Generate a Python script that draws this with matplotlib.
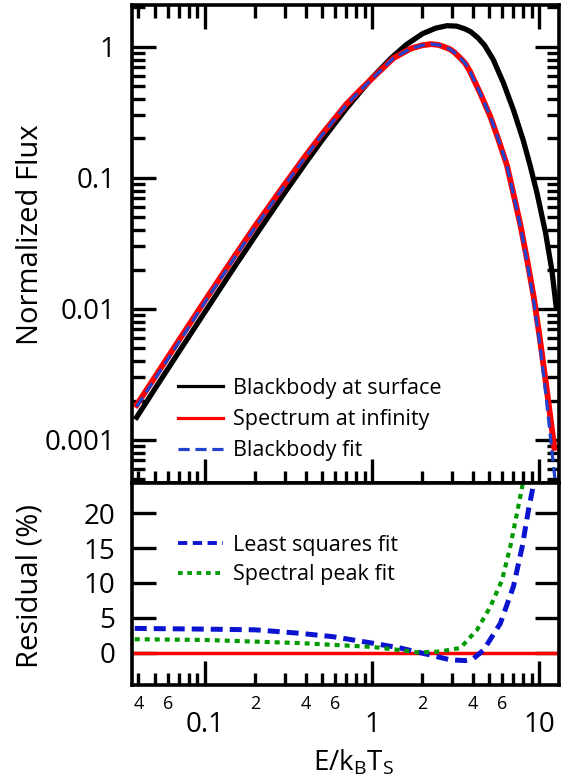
import numpy as np
import matplotlib
matplotlib.use("Agg")
from matplotlib import pyplot as plt
from matplotlib import ticker

plt.rcParams['font.family'] = ['Open Sans', 'DejaVu Sans']
plt.rcParams['mathtext.fontset'] = 'custom'
plt.rcParams['mathtext.rm'] = 'Open Sans'
plt.rcParams['mathtext.it'] = 'Open Sans:italic'

# spectra
x_surf = [0.039, 0.05, 0.07, 0.1, 0.15, 0.2, 0.3, 0.4, 0.5, 0.7, 1.0, 1.3, 1.6, 2.0,
          2.4, 2.8, 3.2, 3.6, 3.9, 4.3, 4.7, 5.3, 6.1, 7.0, 8.0, 8.8, 9.7, 10.9, 11.9, 12.6]
f_surf = [0.00149, 0.00244, 0.00473, 0.0095, 0.0209, 0.0361, 0.0772, 0.130, 0.193, 0.338,
          0.582, 0.823, 1.04, 1.26, 1.39, 1.45, 1.44, 1.37, 1.30, 1.17, 1.03, 0.80, 0.53,
          0.33, 0.195, 0.125, 0.076, 0.038, 0.0195, 0.0105]

x_inf = [0.039, 0.05, 0.07, 0.1, 0.15, 0.2, 0.3, 0.4, 0.5, 0.7, 0.85, 1.0, 1.34, 1.7, 2.0,
         2.25, 2.5, 2.9, 3.1, 3.37, 3.6, 3.86, 4.1, 4.43, 4.75, 5.09, 5.7, 6.4, 6.9, 7.7,
         8.45, 9.25, 10.1, 11.0, 12.3]
f_inf = [0.00185, 0.0030, 0.0058, 0.0116, 0.0252, 0.0432, 0.0895, 0.148, 0.215, 0.365, 0.47,
         0.575, 0.82, 0.97, 1.03, 1.05, 1.035, 0.965, 0.91, 0.82, 0.75, 0.645, 0.545, 0.443,
         0.36, 0.294, 0.195, 0.125, 0.082, 0.044, 0.0237, 0.0124, 0.0058, 0.0026, 0.00087]

x_fit = [0.039, 0.05, 0.07, 0.1, 0.15, 0.2, 0.3, 0.4, 0.5, 0.7, 0.85, 1.0, 1.34, 1.7, 2.0,
         2.25, 2.5, 2.9, 3.1, 3.37, 3.6, 3.86, 4.1, 4.43, 4.75, 5.09, 5.7, 6.4, 6.9, 7.7,
         8.45, 9.25, 10.1, 11.0, 12.4]
f_fit = [0.0018, 0.0029, 0.0056, 0.0113, 0.0246, 0.0422, 0.0877, 0.145, 0.212, 0.36, 0.465,
         0.572, 0.82, 0.97, 1.03, 1.05, 1.035, 0.965, 0.91, 0.82, 0.75, 0.645, 0.545, 0.443,
         0.36, 0.294, 0.195, 0.125, 0.081, 0.043, 0.0228, 0.0115, 0.0052, 0.0021, 0.0005]

# residuals (%)
x_lsq = [0.038, 0.1, 0.2, 0.37, 0.59, 1.0, 1.47, 2.22, 2.93, 3.6, 4.04, 4.64, 5.84, 7.0,
         7.9, 8.6, 9.25, 9.7]
r_lsq = [3.5, 3.4, 3.3, 2.8, 2.3, 1.4, 0.7, -0.3, -1.0, -1.1, -0.8, 0.4, 4.2, 9.5,
         15.2, 20.4, 24.2, 28.0]
x_peak = [0.038, 0.1, 0.37, 1.0, 1.47, 1.9, 2.55, 3.37, 4.24, 5.09, 5.98, 6.7, 7.35, 7.9, 8.4]
r_peak = [1.95, 1.85, 1.4, 0.85, 0.4, 0.05, 0.2, 0.7, 3.3, 6.6, 10.4, 15.2, 20.0, 23.8, 27.5]
x_zero = [0.03, 20]
r_zero = [0, 0]

fig = plt.figure(figsize=(5.7, 7.82), dpi=100)
ax1 = fig.add_axes([0.2316, 0.3824, 0.749, 0.6113])
ax2 = fig.add_axes([0.2316, 0.124, 0.749, 0.2583])

ax1.plot(x_surf, f_surf, color='black', lw=3.8, label='Blackbody at surface')
ax1.plot(x_inf, f_inf, color='#ff0000', lw=4.2, label='Spectrum at infinity')
ax1.plot(x_fit, f_fit, color='#2244cc', lw=2.3, dashes=(3.5, 1.8), label='Blackbody fit')
ax1.set_xscale('log')
ax1.set_yscale('log')
ax1.set_xlim(0.0366, 13.1)
ax1.set_ylim(4.7e-4, 2.09)
ax1.set_ylabel('Normalized Flux', fontsize=21)
ax1.yaxis.set_label_coords(-0.204, 0.52)
ax1.yaxis.set_major_formatter(ticker.FuncFormatter(lambda v, p: '%g' % v))
ax1.yaxis.set_minor_formatter(ticker.NullFormatter())
ax1.xaxis.set_major_formatter(ticker.NullFormatter())
ax1.xaxis.set_minor_formatter(ticker.NullFormatter())
ax1.tick_params(which='both', direction='in', top=True, right=True, width=2.4)
ax1.tick_params(which='major', length=17, labelsize=20, pad=12)
ax1.tick_params(which='minor', length=9)
leg = ax1.legend(loc='upper left', bbox_to_anchor=(0.108, 0.22), frameon=False, fontsize=15.5,
                 handlelength=2.1, handletextpad=0.47, borderpad=0, borderaxespad=0,
                 labelspacing=0.48)
for ln in leg.get_lines():
    ln.set_linewidth(2.3)

ax2.plot(x_zero, r_zero, color='#ff0000', lw=2.5)
ax2.plot(x_lsq, r_lsq, color='#0a14d0', lw=3.6, dashes=(2.4, 1.4), label='Least squares fit')
ax2.plot(x_peak, r_peak, color='#009a00', lw=3.0, dashes=(1.2, 1.2), label='Spectral peak fit')
ax2.set_xscale('log')
ax2.set_xlim(0.0366, 13.1)
ax2.set_ylim(-4.6, 24.3)
ax2.set_yticks([0, 5, 10, 15, 20])
ax2.set_ylabel('Residual (%)', fontsize=21)
ax2.yaxis.set_label_coords(-0.204, 0.49)
ax2.set_xlabel(r'E/k$_\mathrm{B}$T$_\mathrm{S}$', fontsize=20)
ax2.xaxis.set_label_coords(0.52, -0.31)


def minor_label(v, p):
    m = v / 10 ** np.floor(np.log10(v) + 1e-9)
    k = int(round(m))
    return str(k) if k in (2, 4, 6) else ''


ax2.xaxis.set_major_formatter(ticker.FuncFormatter(lambda v, p: '%g' % v))
ax2.xaxis.set_minor_formatter(ticker.FuncFormatter(minor_label))
ax2.tick_params(which='both', direction='in', top=False, right=True, width=2.4)
ax2.tick_params(axis='y', which='major', length=17, labelsize=20, pad=12)
ax2.tick_params(axis='x', which='major', length=17, labelsize=20, pad=19)
ax2.tick_params(axis='x', which='minor', length=9, labelsize=13, pad=7)
leg2 = ax2.legend(loc='upper left', bbox_to_anchor=(0.108, 0.743), frameon=False, fontsize=15.5,
                  handlelength=2.1, handletextpad=0.47, borderpad=0, borderaxespad=0,
                  labelspacing=0.39)
for ln in leg2.get_lines():
    ln.set_linewidth(2.8)

for ax in (ax1, ax2):
    for s in ax.spines.values():
        s.set_linewidth(2.6)

fig.savefig('out.png', dpi=100)
